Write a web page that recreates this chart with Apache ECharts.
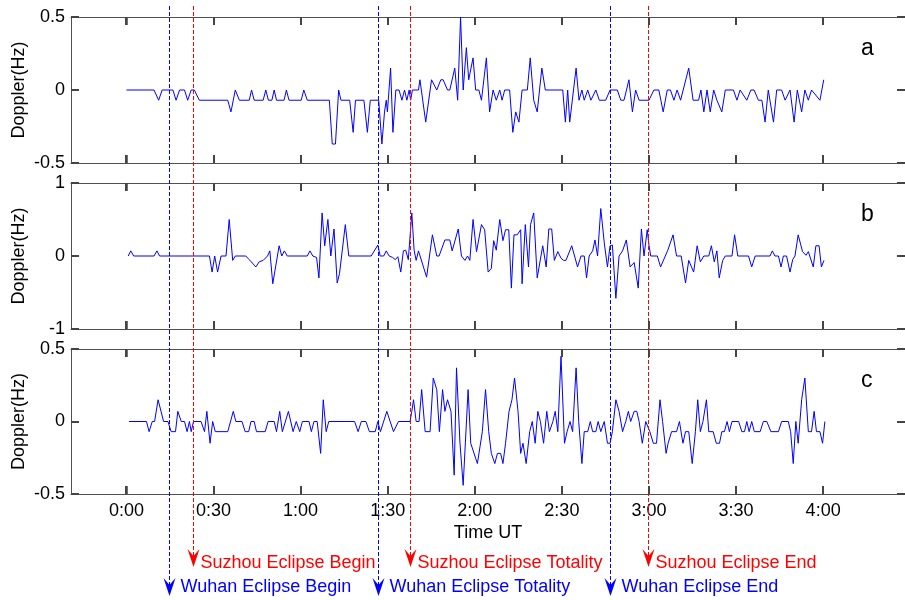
<!DOCTYPE html>
<html>
<head>
<meta charset="utf-8">
<script src="https://cdn.jsdelivr.net/npm/echarts@6/dist/echarts.min.js"></script>
<style>
html,body{margin:0;padding:0;background:#fff;}
#chart{width:905px;height:600px;}
</style>
</head>
<body>
<div id="chart"></div>
<script>
// ---- data: [time in minutes after 0:00 UT, Doppler shift in Hz] ----
const dopplerA = [
[0,0],[9.5,0],[11.1,-0.07],[12.3,0],[16.0,0],[17.1,-0.07],[18.3,0],[20.0,0],[21.1,-0.07],[22.3,0],[23.4,0],[25.1,-0.07],
[34.9,-0.07],[36.0,-0.15],[37.5,0],[38.9,-0.07],[42.3,-0.07],[43.1,0],[44.0,-0.07],[47.1,-0.07],[48.0,0],[48.9,-0.07],
[50.1,-0.07],[50.9,0],[51.7,-0.07],[54.3,-0.07],[55.1,0],[56.0,-0.07],[60.2,-0.07],[61.1,0],[62.3,-0.07],[69.9,-0.07],
[70.9,-0.37],[72.0,-0.37],[73.1,0],[73.9,-0.07],[76.9,-0.07],[78.1,-0.29],[78.9,-0.07],[81.8,-0.07],[83.0,-0.29],[84.0,-0.07],
[86.9,-0.07],[88.0,-0.37],[88.9,-0.15],[89.5,-0.07],[89.9,-0.15],[91.0,0.15],[91.8,-0.29],[92.8,0],[93.9,0],[94.9,-0.07],
[95.8,0],[96.6,-0.07],[97.4,0],[97.9,-0.07],[98.5,0],[100.6,0],[101.1,0.07],[103.1,-0.22],[105.1,0.07],[106.9,0],[108.3,0.07],
[109.1,0.07],[110.6,0],[111.4,0],[113.1,0.15],[114.1,-0.07],[115.1,0.5],[116.0,0],[117.1,0.29],[117.9,0.07],[119.4,0.22],
[120.3,0],[121.4,0],[122.3,-0.07],[124.0,0.22],[125.1,-0.15],[126.3,0],[127.4,-0.07],[128.6,0],[129.4,-0.07],[130.3,0],
[132.0,0],[133.1,-0.29],[134.1,-0.15],[135.2,-0.22],[136.3,0],[138.1,0],[139.1,0.22],[140.3,-0.07],[141.5,-0.15],[143.1,0.15],
[144.3,0],[150.3,0],[151.2,-0.22],[152.0,0],[152.7,-0.22],[154.9,0.15],[155.9,-0.07],[156.9,0],[157.7,-0.07],[158.9,0],
[160.0,-0.07],[161.7,0],[162.9,-0.07],[165.1,-0.07],[166.6,0],[169.1,0],[170.3,-0.07],[171.4,-0.07],[173.1,0.07],[174.3,-0.15],
[175.4,0],[176.6,-0.07],[180.0,-0.07],[181.7,0],[183.4,0],[184.9,-0.15],[186.3,0],[187.4,0],[188.6,-0.07],[189.7,0],
[190.9,-0.07],[193.7,0.15],[195.2,-0.07],[197.1,-0.07],[197.9,0],[198.9,-0.15],[200.0,0],[201.1,-0.15],[202.3,0],[203.4,-0.07],
[205.1,-0.15],[206.3,0],[209.1,0],[210.3,-0.07],[211.4,0],[213.7,-0.07],[215.1,0],[216.2,0],[217.7,-0.07],[218.9,-0.07],
[220.0,-0.22],[221.1,0],[222.9,-0.22],[224.0,0],[225.7,0],[226.9,-0.07],[228.6,0],[230.0,-0.22],[231.1,0],[232.6,-0.15],
[233.7,0],[234.9,-0.07],[236.0,0],[238.9,-0.07],[240.2,0.07]
];
const dopplerB = [
[0.6,0],[1.5,0.07],[2.5,0],[9.5,0],[10.5,0.07],[11.4,0],[28.6,0],[29.5,-0.22],[30.4,0],[31.4,-0.22],[32.6,0],[34.3,0],
[35.4,0.5],[36.6,-0.06],[37.5,0],[41.1,0],[42.3,-0.05],[44.6,-0.15],[45.7,-0.08],[47.1,-0.06],[48.6,0],[49.4,0.07],
[50.4,-0.38],[52.6,0.14],[53.5,0],[54.4,0.07],[55.4,0],[62.3,0],[63.2,0.07],[64.2,0],[65.5,-0.02],[66.3,-0.3],[67.4,0.59],
[68.3,0.14],[69.4,0.5],[70.4,0],[71.5,0.37],[72.6,-0.37],[73.4,-0.24],[75.4,0.43],[76.6,0],[84.3,0],[86.6,0.15],[87.4,0],
[88.6,0],[89.5,0.07],[90.5,0],[91.7,-0.02],[92.6,-0.05],[93.5,-0.01],[94.5,-0.22],[95.4,0.07],[96.2,0.08],[97.1,-0.05],
[97.7,-0.06],[98.3,0.59],[99.1,0.08],[99.8,-0.06],[100.6,0.07],[103.4,-0.29],[105.4,0.29],[106.9,0],[107.7,0],[109.7,0.22],
[111.4,0.22],[112.2,0.07],[114.3,0.37],[115.4,0],[116.6,-0.06],[117.5,0],[118.3,-0.06],[119.4,0.5],[120.6,0.06],
[122.3,0.43],[123.4,0.36],[124.6,-0.22],[125.7,-0.17],[126.5,0.21],[127.4,0.08],[128.6,0.5],[129.7,0.21],[130.6,0.36],
[131.7,0.36],[132.6,-0.44],[133.5,0.29],[134.6,0.29],[135.8,0.36],[136.3,-0.38],[137.4,0.43],[138.5,-0.15],[139.2,0.43],
[140.3,0.59],[141.5,-0.3],[143.4,0.14],[144.6,-0.15],[145.5,0.37],[146.5,0.37],[147.4,-0.06],[148.6,0.06],[149.7,-0.03],
[150.6,-0.06],[151.4,-0.06],[153.4,0.14],[155.4,-0.15],[156.6,0],[157.7,0],[158.5,-0.3],[159.4,0],[160.6,0.07],[161.4,0.22],
[162.3,0],[163.4,0.65],[164.6,0.18],[165.7,-0.15],[166.6,0.14],[167.4,0.15],[168.6,-0.58],[169.7,0],[170.9,0.07],[172.2,0.22],
[173.5,-0.15],[174.9,-0.09],[176.3,-0.44],[177.4,0.37],[178.3,0],[179.4,0.36],[180.0,0.15],[180.6,0],[182.9,0],[184.0,-0.15],
[186.5,0.08],[188.3,0.29],[189.5,0],[191.1,0],[192.6,-0.37],[193.7,-0.06],[195.4,-0.22],[196.6,0.14],[197.7,-0.08],[198.9,0],
[200.6,0],[201.5,0.14],[202.5,-0.08],[203.4,0.07],[204.2,-0.3],[205.4,-0.06],[206.3,0],[208.6,0],[209.5,0.29],[210.6,0],
[214.3,0],[215.4,-0.15],[216.6,0],[221.7,0],[222.5,0.07],[223.4,0],[224.6,0],[225.5,-0.15],[226.3,0],[227.4,0],[228.6,-0.22],
[229.5,-0.05],[230.3,0],[231.4,0.29],[232.9,0.06],[234.1,0.01],[234.9,0.06],[236.6,-0.15],[237.5,0.14],[238.6,0.14],
[239.4,-0.15],[240.3,-0.06]
];
const dopplerC = [
[0.9,0],[6.9,0],[7.8,-0.07],[8.9,0],[9.7,0],[10.9,0.15],[12.8,0],[14.3,0],[15.4,-0.07],[16.9,-0.07],[17.7,0.07],[18.9,0],
[20.0,0],[20.9,-0.07],[21.7,0],[22.3,-0.07],[23.1,0],[25.7,0],[26.9,-0.07],[27.7,0.07],[28.8,-0.15],[29.7,0],[30.6,-0.07],
[34.9,-0.07],[36.8,0.07],[37.7,0],[39.8,0],[40.9,-0.07],[42.1,-0.07],[42.9,0],[44.0,0],[44.8,-0.07],[47.8,-0.07],[48.8,0],
[50.9,0],[51.7,-0.07],[52.8,0.07],[53.7,-0.07],[55.8,0.07],[57.4,-0.07],[58.5,0],[59.7,-0.07],[60.6,0],[62.9,0],[63.7,-0.07],
[64.6,0],[65.7,0],[66.9,-0.22],[67.8,0.15],[68.8,-0.07],[69.7,0],[78.6,0],[79.8,-0.07],[80.9,0],[82.5,0],[83.7,-0.07],
[85.7,-0.07],[86.6,0],[87.5,-0.07],[89.7,0.07],[92.0,-0.07],[93.7,0],[97.7,0],[98.3,0.07],[98.9,0.15],[99.8,0],[100.8,0],
[101.7,0.22],[102.9,-0.07],[104.6,-0.07],[105.7,0.3],[106.9,0.22],[107.8,-0.07],[108.9,0.22],[109.7,0.07],[110.6,0.15],
[111.8,0.07],[112.9,-0.37],[113.7,0.37],[114.9,-0.15],[116.0,-0.44],[117.7,0.22],[118.6,-0.15],[120.9,-0.29],[122.6,-0.07],
[123.7,0.22],[124.8,-0.07],[125.7,-0.22],[126.9,-0.29],[127.8,-0.22],[128.9,-0.22],[129.7,-0.29],[130.6,-0.15],[131.8,0.07],
[132.8,0.15],[133.7,0.3],[134.9,0.07],[135.8,-0.22],[136.6,-0.15],[137.7,-0.29],[138.9,-0.07],[139.8,0],[140.8,-0.15],
[141.7,0.07],[142.6,0],[143.7,-0.15],[144.8,0.07],[145.7,-0.07],[146.9,0],[147.7,0.07],[148.6,-0.07],[149.7,0.45],
[150.9,-0.15],[151.8,-0.07],[152.8,0],[153.7,-0.07],[154.9,0.37],[155.8,0],[156.9,-0.29],[157.7,-0.07],[158.9,-0.07],
[159.8,0],[160.6,-0.07],[161.7,-0.07],[162.5,0],[163.4,-0.07],[164.6,0],[165.7,-0.15],[166.6,-0.15],[167.4,-0.07],
[168.6,0.15],[169.7,0.07],[170.9,-0.07],[172.0,0],[172.9,0.07],[173.7,0],[174.9,0.07],[175.8,0.07],[176.6,0],[177.7,-0.15],
[178.9,0],[180.3,-0.07],[181.5,-0.15],[182.6,-0.15],[183.8,0.15],[184.7,0],[185.9,-0.22],[186.6,-0.15],[187.8,-0.07],
[189.5,-0.07],[190.5,0],[191.7,-0.15],[192.6,-0.07],[193.7,-0.07],[194.9,-0.29],[196.0,-0.07],[196.8,0.15],[197.7,-0.07],
[198.6,0],[199.8,0.15],[200.6,-0.07],[202.1,-0.07],[203.2,-0.15],[204.3,-0.15],[205.1,-0.07],[206.0,-0.07],[206.9,0],
[207.7,-0.07],[208.6,0],[210.9,0],[212.0,-0.07],[212.9,-0.07],[213.7,0],[214.5,-0.07],[215.4,0],[216.3,-0.07],[218.3,-0.07],
[219.4,0],[220.6,0],[222.0,-0.07],[224.6,-0.07],[225.7,0],[228.0,0],[228.8,-0.07],[229.7,-0.29],[230.6,0],[231.4,-0.15],
[232.6,0.15],[233.7,0.3],[234.9,-0.07],[236.0,-0.07],[236.9,0.07],[237.7,-0.07],[238.9,-0.07],[239.8,-0.15],[240.6,0]
];
const panelLetters = ['a', 'b', 'c'];
const yLimits = [0.5, 1, 0.5];
const tickMinutes = [0, 30, 60, 90, 120, 150, 180, 210, 240];
const suzhouTimes = [23.0, 98.0, 179.8];
const suzhouLabels = ['Suzhou Eclipse Begin', 'Suzhou Eclipse Totality', 'Suzhou Eclipse End'];
const wuhanTimes = [14.9, 86.9, 166.7];
const wuhanLabels = ['Wuhan Eclipse Begin', 'Wuhan Eclipse Totality', 'Wuhan Eclipse End'];

// ---- layout ----
const FONT = '"Liberation Sans", Arial, sans-serif';
const XMIN = -19.1, XMAX = 268.2;
const LEFT = 71, RIGHT = -4;
const panelTops = [17, 183, 349];
const panelH = [146, 146, 145];
const AXC = '#505050';
const TICK = 8;
const fmtTime = v => Math.floor(v / 60) + ':' + String(Math.round(v % 60)).padStart(2, '0');
const crisp = v => Math.round(v - 0.5) + 0.5;

const grid = [], xAxis = [], yAxis = [], series = [];
const allData = [dopplerA, dopplerB, dopplerC];
const boxLine = {show: true, onZero: false, lineStyle: {color: AXC, width: 1}};
const axTick = {show: true, inside: true, length: TICK, lineStyle: {color: '#444', width: 1.5}};
const tickStyle = () => ({stroke: '#444444', lineWidth: 2, fill: null});

for (let i = 0; i < 3; i++) {
  grid.push({left: LEFT, right: RIGHT, top: panelTops[i], height: panelH[i], show: false, containLabel: false});
  const isBottom = i === 2;
  const lim = yLimits[i];
  xAxis.push({type: 'value', gridIndex: i, min: XMIN, max: XMAX, position: 'bottom',
    axisLine: boxLine, splitLine: {show: false},
    axisTick: Object.assign({customValues: tickMinutes}, axTick),
    axisLabel: {show: isBottom, customValues: tickMinutes, formatter: fmtTime, margin: 8,
      color: '#000', fontSize: 18, fontFamily: FONT},
    name: isBottom ? 'Time UT' : '', nameLocation: 'middle', nameGap: 30, nameMoveOverlap: false,
    nameTextStyle: {color: '#000', fontSize: 18, fontFamily: FONT}
  });
  xAxis.push({type: 'value', gridIndex: i, min: XMIN, max: XMAX, position: 'top',
    axisLine: boxLine, splitLine: {show: false},
    axisTick: Object.assign({customValues: tickMinutes}, axTick), axisLabel: {show: false}});
  yAxis.push({type: 'value', gridIndex: i, min: -lim, max: lim, interval: lim, position: 'left',
    axisLine: boxLine, splitLine: {show: false}, axisTick: axTick,
    axisLabel: {show: true, margin: 6, color: '#000', fontSize: 18, fontFamily: FONT,
      showMinLabel: true, showMaxLabel: true},
    name: 'Doppler(Hz)', nameLocation: 'middle', nameGap: 43, nameRotate: 90, nameMoveOverlap: false,
    nameTextStyle: {color: '#000', fontSize: 18, fontFamily: FONT}
  });
  yAxis.push({type: 'value', gridIndex: i, min: -lim, max: lim, interval: lim, position: 'right',
    axisLine: boxLine, splitLine: {show: false}, axisTick: axTick, axisLabel: {show: false}});

  // data line
  series.push({type: 'line', xAxisIndex: 2 * i, yAxisIndex: 2 * i, data: allData[i],
    showSymbol: false, symbol: 'none', lineStyle: {color: '#0000ff', width: 1}, silent: true,
    animation: false, z: 2});
  // inward tick marks on the four sides of the box, placed through the axes' scales
  series.push({type: 'custom', xAxisIndex: 2 * i, yAxisIndex: 2 * i, silent: true, animation: false, clip: false, z: 6,
    data: tickMinutes.map(t => [t, 0]),
    renderItem: (params, api) => {
      const pb = api.coord([api.value(0), -lim]);
      const pt = api.coord([api.value(0), lim]);
      const x = Math.round(pb[0]);
      return {type: 'group', children: [
        {type: 'line', shape: {x1: x, y1: pb[1], x2: x, y2: pb[1] - TICK}, style: tickStyle()},
        {type: 'line', shape: {x1: x, y1: pt[1], x2: x, y2: pt[1] + TICK}, style: tickStyle()}
      ]};
    }
  });
  series.push({type: 'custom', xAxisIndex: 2 * i, yAxisIndex: 2 * i, silent: true, animation: false, clip: false, z: 6,
    data: [-lim, 0, lim].map(v => [0, v]),
    renderItem: (params, api) => {
      const pl = api.coord([XMIN, api.value(1)]);
      const pr = api.coord([XMAX, api.value(1)]);
      const y = Math.round(pl[1]);
      return {type: 'group', children: [
        {type: 'line', shape: {x1: pl[0], y1: y, x2: pl[0] + TICK, y2: y}, style: tickStyle()},
        {type: 'line', shape: {x1: pr[0], y1: y, x2: pr[0] - TICK, y2: y}, style: tickStyle()}
      ]};
    }
  });
}

// eclipse event markers: dashed line through all panels, arrow head and label below the time axis
const eventSeries = (times, labels, color, tipY, labelY, labelOff) => ({
  type: 'custom', xAxisIndex: 4, yAxisIndex: 4, silent: true, animation: false, clip: false, z: 5,
  data: times.map(t => [t, 0]),
  renderItem: (params, api) => {
    const x = crisp(api.coord([api.value(0), 0])[0]);
    return {type: 'group', children: [
      {type: 'line', shape: {x1: x, y1: 6, x2: x, y2: tipY - 10},
        style: {stroke: color, lineWidth: 1, lineDash: [4, 2]}},
      {type: 'polygon', shape: {points: [[x, tipY], [x - 6, tipY - 18], [x, tipY - 11], [x + 6, tipY - 18]]},
        style: {fill: color}},
      {type: 'text', x: x + labelOff, y: labelY,
        style: {text: labels[params.dataIndex], fill: color, fontSize: 18, fontFamily: FONT,
          align: 'left', verticalAlign: 'middle'}}
    ]};
  }
});
series.push(eventSeries(suzhouTimes, suzhouLabels, '#ff0000', 567, 563, 7));
series.push(eventSeries(wuhanTimes, wuhanLabels, '#0000ff', 596, 587, 11));

const chart = echarts.init(document.getElementById('chart'), null, {renderer: 'canvas'});
chart.setOption({
  animation: false,
  backgroundColor: '#fff',
  grid, xAxis, yAxis, series,
  graphic: panelLetters.map((s, i) => ({
    type: 'text', left: 861, top: panelTops[i] + 20,
    style: {text: s, fontSize: 23, fontFamily: FONT, fill: '#000'}
  }))
});
</script>
</body>
</html>
